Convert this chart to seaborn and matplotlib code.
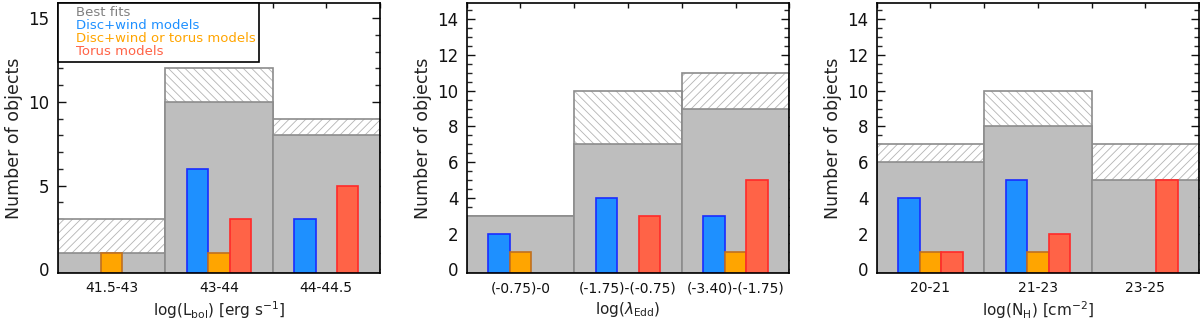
import matplotlib
matplotlib.use('Agg')
import matplotlib.pyplot as plt
from matplotlib.ticker import MultipleLocator
from matplotlib.lines import Line2D
import seaborn as sns
import pandas as pd

sns.set_style('ticks')
plt.rcParams['font.family'] = ['DejaVu Sans']
plt.rcParams['mathtext.fontset'] = 'dejavusans'
plt.rcParams['hatch.linewidth'] = 0.6

modelos = ['Disc+wind models', 'Disc+wind or torus models', 'Torus models']
colores = ['#1e90ff', '#ffa500', '#ff6347']
bordes = ['#1a2cff', '#c07020', '#ff2a2a']

# Luminosidad bolometrica
bins_lbol = ['41.5-43', '43-44', '44-44.5']
total_lbol = [3, 12, 9]
best_lbol = [1, 10, 8]
disc_lbol = [0, 6, 3]
either_lbol = [1, 1, 0]
torus_lbol = [0, 3, 5]

# Eddington ratio
bins_edd = ['(-0.75)-0', '(-1.75)-(-0.75)', '(-3.40)-(-1.75)']
total_edd = [3, 10, 11]
best_edd = [3, 7, 9]
disc_edd = [2, 4, 3]
either_edd = [1, 0, 1]
torus_edd = [0, 3, 5]

# Columna de hidrogeno
bins_nh = ['20-21', '21-23', '23-25']
total_nh = [7, 10, 7]
best_nh = [6, 8, 5]
disc_nh = [4, 5, 0]
either_nh = [1, 1, 0]
torus_nh = [1, 2, 5]


def panel(ax, bins, total, best, disc, either, torus, xlabel, ylim, major, minor):
    # total (parte rayada)
    sns.barplot(x=bins, y=total, color='white', width=1, saturation=1,
                edgecolor='#b4b4b4', linewidth=0, errorbar=None, ax=ax)
    for p, h in zip(ax.containers[-1], ['////', '\\\\\\\\', '////']):
        p.set_hatch(h)
    sns.barplot(x=bins, y=total, width=1, saturation=1, facecolor='none',
                edgecolor='#8c8c8c', linewidth=1.2, errorbar=None, ax=ax)
    # mejores ajustes
    sns.barplot(x=bins, y=best, color='#bebebe', width=1, saturation=1,
                edgecolor='#8c8c8c', linewidth=1.2, errorbar=None, ax=ax)
    # modelos
    df = pd.DataFrame({'bin': bins * 3,
                       'n': disc + either + torus,
                       'modelo': [m for m in modelos for _ in bins]})
    sns.barplot(data=df, x='bin', y='n', hue='modelo', hue_order=modelos,
                palette=colores, width=0.6, saturation=1, linewidth=1.2,
                errorbar=None, legend=False, ax=ax)
    for cont, ec in zip(ax.containers[-3:], bordes):
        for p in cont:
            p.set_edgecolor(ec)

    # las barras llegan hasta el eje
    y0 = ylim[0]
    for p in ax.patches:
        h = p.get_height()
        if h > 0:
            p.set_y(y0)
            p.set_height(h - y0)
        else:
            p.set_visible(False)

    ax.set_xlim(-0.5, 2.5)
    ax.set_ylim(*ylim)
    ax.yaxis.set_major_locator(MultipleLocator(major))
    ax.yaxis.set_minor_locator(MultipleLocator(minor))
    ax.xaxis.set_minor_locator(MultipleLocator(0.5))
    ax.tick_params(axis='y', which='major', direction='in', left=True, right=True,
                   length=6, width=1, labelsize=12, pad=6, colors='#111111')
    ax.tick_params(axis='y', which='minor', direction='in', left=True, right=True,
                   length=3.5, width=1)
    ax.tick_params(axis='x', which='both', direction='in', bottom=False, top=True,
                   length=3.5, width=1, labelsize=10, pad=6, colors='#111111')
    for s in ax.spines.values():
        s.set_color('black')
        s.set_linewidth(1.2)
    ax.set_xlabel(xlabel, fontsize=11, labelpad=3, color='#222222')
    ax.set_ylabel('Number of objects', fontsize=12.5, labelpad=4, color='#222222')


fig = plt.figure(figsize=(12, 3.24), dpi=100)
ax1 = fig.add_axes([0.0483, 0.1574, 0.2683, 0.8333])
ax2 = fig.add_axes([0.3889, 0.1574, 0.2689, 0.8333])
ax3 = fig.add_axes([0.7306, 0.1574, 0.2686, 0.8333])

panel(ax1, bins_lbol, total_lbol, best_lbol, disc_lbol, either_lbol, torus_lbol,
      r'log(L$_{\rm bol}$) [erg s$^{-1}$]', (-0.22, 15.9), 5, 1)
panel(ax2, bins_edd, total_edd, best_edd, disc_edd, either_edd, torus_edd,
      r'log($\lambda_{\rm Edd}$)', (-0.2, 14.9), 2, 0.5)
panel(ax3, bins_nh, total_nh, best_nh, disc_nh, either_nh, torus_nh,
      r'log(N$_{\rm H}$) [cm$^{-2}$]', (-0.2, 14.9), 2, 0.5)

handles = [Line2D([], [], linestyle='none') for _ in range(4)]
leg = ax1.legend(handles, ['Best fits'] + modelos, loc='upper left',
                 bbox_to_anchor=(0, 1), borderaxespad=0, frameon=True,
                 fancybox=False, edgecolor='black', framealpha=1, fontsize=9.5,
                 handlelength=0.7, handletextpad=0.4, labelspacing=0.0,
                 borderpad=0.25, labelcolor=['#808080'] + colores)
leg.get_frame().set_linewidth(1.2)

plt.savefig('out.png', dpi=100)
